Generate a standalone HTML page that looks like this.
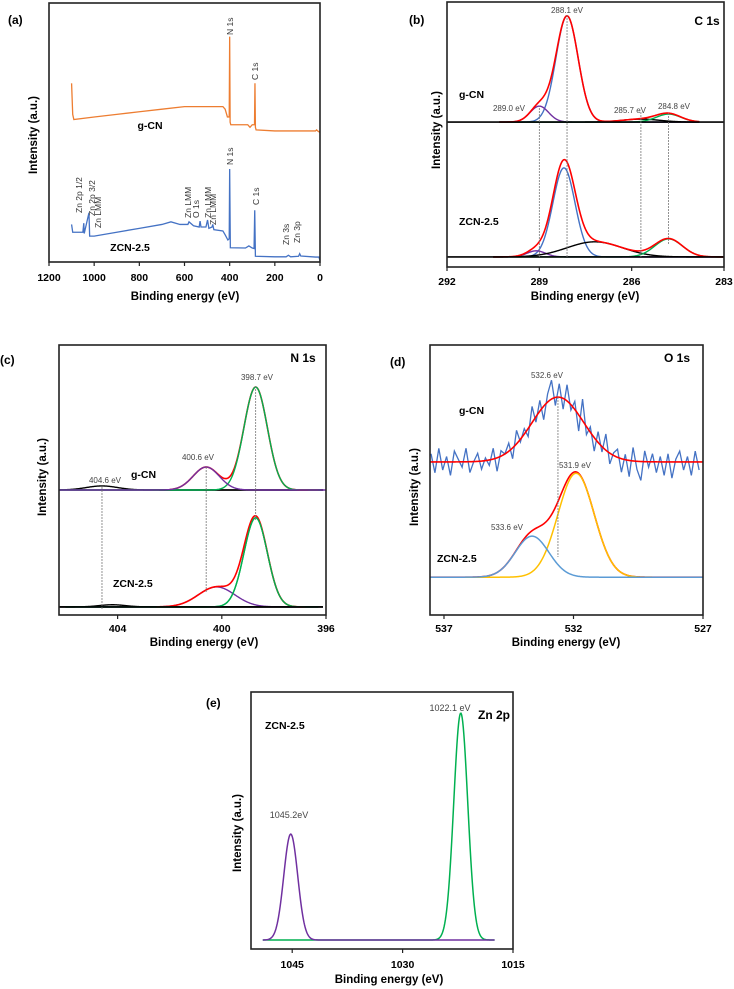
<!DOCTYPE html>
<html><head><meta charset="utf-8"><style>
html,body{margin:0;padding:0;background:#fff;}
svg{display:block;font-family:"Liberation Sans","DejaVu Sans",sans-serif;}
.lab{font-size:12px;font-weight:bold;}
.tick{font-size:10.5px;font-weight:bold;}
.ttl{font-size:11.5px;font-weight:bold;}
.ann{font-size:8px;fill:#444;}
.sm{font-size:8.5px;fill:#333;}
.bl{font-size:10.5px;font-weight:bold;}
</style></head><body>
<svg id="fig" width="734" height="989" viewBox="0 0 734 989" xmlns="http://www.w3.org/2000/svg"></svg>
<script>
// ---------- DATA ----------
// (a) survey
const surveyGcnE=[1100,1095,1090,1000,900,800,700,600,430,420,410,402,400,398,395,320,310,300,290,288,286,283,200,20,15,10,0];
const surveyGcnI=[69,57,55,56,57,58,59,60,60,59,56,56,87,54,53,53,52,53,53,69,52,51,50.6,50.6,51,50.6,50];
const surveyZcnE=[1100,1095,1080,1050,1046,1044,1023,1020,1010,1000,900,800,700,660,620,585,580,560,535,531,527,505,498,492,478,475,470,430,420,408,402,400,397,330,315,300,292,289,286,200,150,140,130,95,90,85,20,5,0];
const surveyZcnI=[14.5,11.5,11.5,11.5,15,11,19,10,10,10,11.5,13,14.5,15.5,14.5,14.5,15.5,14,13.5,15.8,13.5,13.5,16.2,13,13.5,14.5,12.5,12,10.5,8.5,9,35.9,5.5,5.4,6.2,5.4,5.2,20,2.2,2,2,2.6,2,2.2,3.2,2.3,1.9,1.9,0.6];
const surveyTicks=[1200,1000,800,600,400,200,0];
// (b) C 1s
const c1sCenters=[288.1,289.0,285.7,284.8];
const c1sGcnHeights=[40,6,1.1,3];
const c1sWidths=[0.36,0.3,0.6,0.4];
const c1sZcnCenters=[288.2,289.1,287.2,284.8];
const c1sZcnHeights=[33.6,2.3,5.7,6.8];
const c1sZcnWidths=[0.36,0.3,0.9,0.45];
const c1sTicks=[292,289,286,283];
// (c) N 1s
const n1sCenters=[398.7,400.6,404.6];
const n1sGcnHeights=[38.1,8.5,1.5];
const n1sGcnWidths=[0.45,0.5,0.6];
const n1sZcnCenters=[398.7,400.2,404.2];
const n1sZcnHeights=[33,7.4,0.8];
const n1sZcnWidths=[0.45,0.7,0.5];
const n1sTicks=[404,400,396];
// (d) O 1s
const o1sGcnCenter=532.6, o1sGcnHeight=24, o1sGcnWidth=1.0;
const o1sNoise=[3,-4,5,-3,2,-5,4,1,-2,5,-4,0,3,-3,1,-2,4,-5,2,0,3,-4,5,-1,2,-3,6,-2,4,-5,3,7,-3,5,-4,6,-2,3,-6,8,-3,2,-5,4,-2,6,-4,1,3,-5,2,-6,5,-3,-7,4,-2,3,-4,2,-5,3,-6,1,4,-3,2,-5,4,-3];
const o1sZcnCenters=[531.9,533.6];
const o1sZcnHeights=[38.5,15.2];
const o1sZcnWidths=[0.7,0.65];
const o1sTicks=[537,532,527];
// (e) Zn 2p
const zn2pCenters=[1022.1,1045.2];
const zn2pHeights=[88.3,41.2];
const zn2pWidths=[0.95,0.95];
const zn2pTicks=[1045,1030,1015];

// ---------- helpers ----------
const svg=document.getElementById('fig');
const NS='http://www.w3.org/2000/svg';
function mk(tag,attrs,parent){const e=document.createElementNS(NS,tag);for(const k in attrs)e.setAttribute(k,attrs[k]);(parent||svg).appendChild(e);return e;}
function txt(s,x,y,cls,anchor,rot){const t=mk('text',{x:x,y:y,class:cls,'text-anchor':anchor||'middle'});if(rot)t.setAttribute('transform','rotate(-90 '+x+' '+y+')');t.textContent=s;return t;}
function gauss(x,c,h,s){return h*Math.exp(-(x-c)*(x-c)/(2*s*s));}
function panel(b){
  b.X=e=>b.x0+(b.emin-e)/(b.emin-b.emax)*(b.x1-b.x0);
  b.Y=v=>b.y1-v/100*(b.y1-b.y0);
  return b;}
function frame(b,name){const r=mk('rect',{x:b.x0,y:b.y0,width:b.x1-b.x0,height:b.y1-b.y0,fill:'none',stroke:'#222','stroke-width':1.6});}
function ticks(b,arr,ty,name){arr.forEach(v=>{const x=b.X(v);mk('line',{x1:x,x2:x,y1:b.y1,y2:b.y1+4,stroke:'#222','stroke-width':1.2});const t=txt(String(v),x,ty,'tick');});}
function curveFn(b,e0,e1,f,color,w,name){let d='';const n=400;for(let i=0;i<=n;i++){const e=e0+(e1-e0)*i/n;d+=(i?'L':'M')+b.X(e).toFixed(2)+' '+b.Y(f(e)).toFixed(2);}const p=mk('path',{d:d,fill:'none',stroke:color,'stroke-width':w||1.5});return p;}
function poly(b,E,I,color,name){let d='';E.forEach((e,i)=>{d+=(i?'L':'M')+b.X(e).toFixed(2)+' '+b.Y(I[i]).toFixed(2);});const p=mk('path',{d:d,fill:'none',stroke:color,'stroke-width':1.3});}
function vdash(b,e,ya,yb,name){const x=b.X(e);const l=mk('line',{x1:x,x2:x,y1:ya,y2:yb,stroke:'#777','stroke-width':0.8,'stroke-dasharray':'2,1'});}
function hline(x1,x2,y,color,name){const l=mk('line',{x1:x1,x2:x2,y1:y,y2:y,stroke:color,'stroke-width':1.6});}
function label(s,x,y,cls,name,anchor,rot){const t=txt(s,x,y,cls,anchor,rot);return t;}

// ---------- (a) ----------
const A=panel({x0:49,x1:320,y0:3,y1:262,emin:1200,emax:0});
poly(A,surveyGcnE,surveyGcnI,'#ed7d31','gcn-survey-line');
poly(A,surveyZcnE,surveyZcnI,'#4472c4','zcn-survey-line');
frame(A,'panel-a');
ticks(A,surveyTicks,281,'panel-a');
label('Binding energy (eV)',185,300,'ttl','panel-a-x-axis-title');
label('Intensity (a.u.)',37,135,'ttl','panel-a-y-axis-title','middle',true);
label('(a)',8,24,'lab','panel-a-label','start');
label('g-CN',150,129,'bl','gcn-survey-label');
label('ZCN-2.5',130,251,'bl','zcn-survey-label');
[['N 1s',233,35],['C 1s',258,80],['Zn 2p 1/2',82,213],['Zn 2p 3/2',95,216],['Zn LMM',101,228],['Zn LMM',191,218],['O 1s',199,218],['Zn LMM',211,218],['Zn LMM',216,225],['N 1s',233,165],['C 1s',259,205],['Zn 3s',289,245],['Zn 3p',300,243]].forEach(a=>{label(a[0],a[1],a[2],'sm','survey-peak-label','start',true);});

// ---------- (b) ----------
const B=panel({x0:447,x1:724,y0:2,y1:267,emin:292,emax:283});
const bG=54.7,bZ=3.8;
const bCols=['#4472c4','#7030a0','#000','#00b050'];
c1sCenters.forEach((c,i)=>curveFn(B,290.3,283.8,e=>bG+gauss(e,c,c1sGcnHeights[i],c1sWidths[i]),bCols[i],1.4,'c1s-gcn-component'));
curveFn(B,290.3,283.8,e=>bG+c1sCenters.reduce((s,c,i)=>s+gauss(e,c,c1sGcnHeights[i],c1sWidths[i]),0),'#ff0000',1.6,'c1s-gcn-envelope');
c1sZcnCenters.forEach((c,i)=>curveFn(B,290.5,283,e=>bZ+gauss(e,c,c1sZcnHeights[i],c1sZcnWidths[i]),bCols[i],1.4,'c1s-zcn-component'));
curveFn(B,290.5,283,e=>bZ+c1sZcnCenters.reduce((s,c,i)=>s+gauss(e,c,c1sZcnHeights[i],c1sZcnWidths[i]),0),'#ff0000',1.6,'c1s-zcn-envelope');
hline(447,724,B.Y(bG),'#000','c1s-gcn-baseline');
hline(447,724,B.Y(bZ),'#000','c1s-zcn-baseline');
vdash(B,289.0,108,257,'c1s-guide');vdash(B,288.1,15,257,'c1s-guide');vdash(B,285.7,112,257,'c1s-guide');vdash(B,284.8,113,245,'c1s-guide');
frame(B,'panel-b');
ticks(B,c1sTicks,285,'panel-b');
label('Binding energy (eV)',585,300,'ttl','panel-b-x-axis-title');
label('Intensity (a.u.)',440,130,'ttl','panel-b-y-axis-title','middle',true);
label('(b)',409,24,'lab','panel-b-label','start');
label('C 1s',707,25,'lab','panel-b-title');
label('288.1 eV',567,13,'ann','c1s-annot');label('289.0 eV',509,111,'ann','c1s-annot');label('285.7 eV',630,113,'ann','c1s-annot');label('284.8 eV',674,109,'ann','c1s-annot');
label('g-CN',459,98,'bl','c1s-gcn-label','start');label('ZCN-2.5',459,225,'bl','c1s-zcn-label','start');

// ---------- (c) ----------
const C=panel({x0:59,x1:326,y0:345,y1:615,emin:406.25,emax:396});
const cG=46.3,cZ=3;
const cCols=['#00b050','#7030a0','#000'];
hline(59,323,C.Y(cG),'#000','n1s-gcn-baseline');
hline(59,323,C.Y(cZ),'#000','n1s-zcn-baseline');
curveFn(C,406.25,396.1,e=>cG+gauss(e,n1sCenters[2],n1sGcnHeights[2],n1sGcnWidths[2]),cCols[2],1.4,'n1s-gcn-component');
curveFn(C,402,396.3,e=>cG+n1sCenters.reduce((s,c,i)=>s+gauss(e,c,n1sGcnHeights[i],n1sGcnWidths[i]),0),'#ff0000',1.6,'n1s-gcn-envelope');
curveFn(C,406.25,396.2,e=>cG+gauss(e,n1sCenters[0],n1sGcnHeights[0],n1sGcnWidths[0]),cCols[0],1.4,'n1s-gcn-main-component');
curveFn(C,406.25,396,e=>cG+gauss(e,n1sCenters[1],n1sGcnHeights[1],n1sGcnWidths[1]),cCols[1],1.4,'n1s-gcn-component');
n1sZcnCenters.forEach((c,i)=>curveFn(C,406,396.3,e=>cZ+gauss(e,c,n1sZcnHeights[i],n1sZcnWidths[i]),cCols[i],1.4,'n1s-zcn-component'));
curveFn(C,402.5,396.8,e=>cZ+n1sZcnCenters.reduce((s,c,i)=>s+gauss(e,c,n1sZcnHeights[i],n1sZcnWidths[i]),0),'#ff0000',1.6,'n1s-zcn-envelope');
curveFn(C,406,396.3,e=>cZ+gauss(e,n1sZcnCenters[0],n1sZcnHeights[0],n1sZcnWidths[0]),cCols[0],1.4,'n1s-zcn-main-component');
hline(59,323,C.Y(cZ),'#000','n1s-zcn-baseline-top');
vdash(C,404.6,487,610,'n1s-guide');vdash(C,400.6,467,592,'n1s-guide');vdash(C,398.7,386,520,'n1s-guide');
frame(C,'panel-c');
ticks(C,n1sTicks,632,'panel-c');
label('Binding energy (eV)',204,646,'ttl','panel-c-x-axis-title');
label('Intensity (a.u.)',46,477,'ttl','panel-c-y-axis-title','middle',true);
label('(c)',0,364,'lab','panel-c-label','start');
label('N 1s',303,362,'lab','panel-c-title');
label('398.7 eV',257,380,'ann','n1s-annot');label('400.6 eV',198,460,'ann','n1s-annot');label('404.6 eV',105,483,'ann','n1s-annot');
label('g-CN',131,478,'bl','n1s-gcn-label','start');label('ZCN-2.5',113,587,'bl','n1s-zcn-label','start');

// ---------- (d) ----------
const D=panel({x0:430,x1:703,y0:345,y1:615,emin:537.54,emax:527});
const dG=56.7,dZ=14;
let nd='';o1sNoise.forEach((n,i)=>{const e=537.5-i*0.15;const v=dG+gauss(e,o1sGcnCenter,o1sGcnHeight,o1sGcnWidth)+n;nd+=(i?'L':'M')+D.X(e).toFixed(2)+' '+D.Y(v).toFixed(2);});
const np=mk('path',{d:nd,fill:'none',stroke:'#4472c4','stroke-width':1.3});


curveFn(D,537.54,527,e=>dG+gauss(e,o1sGcnCenter,o1sGcnHeight,o1sGcnWidth),'#ff0000',1.6,'o1s-gcn-fit');
curveFn(D,537.54,527,e=>dZ+o1sZcnCenters.reduce((s,c,i)=>s+gauss(e,c,o1sZcnHeights[i],o1sZcnWidths[i]),0),'#ff0000',1.6,'o1s-zcn-envelope');
curveFn(D,537.54,527,e=>dZ+gauss(e,o1sZcnCenters[0],o1sZcnHeights[0],o1sZcnWidths[0]),'#ffc000',1.5,'o1s-zcn-component');
curveFn(D,537.54,527,e=>dZ+gauss(e,o1sZcnCenters[1],o1sZcnHeights[1],o1sZcnWidths[1]),'#5b9bd5',1.5,'o1s-zcn-component');
vdash(D,532.6,397,557,'o1s-guide');
frame(D,'panel-d');
ticks(D,o1sTicks,632,'panel-d');
label('Binding energy (eV)',566,646,'ttl','panel-d-x-axis-title');
label('Intensity (a.u.)',418,487,'ttl','panel-d-y-axis-title','middle',true);
label('(d)',390,366,'lab','panel-d-label','start');
label('O 1s',677,362,'lab','panel-d-title');
label('532.6 eV',547,378,'ann','o1s-annot');label('531.9 eV',575,468,'ann','o1s-annot');label('533.6 eV',507,530,'ann','o1s-annot');
label('g-CN',459,414,'bl','o1s-gcn-label','start');label('ZCN-2.5',437,562,'bl','o1s-zcn-label','start');

// ---------- (e) ----------
const E=panel({x0:251,x1:513,y0:692,y1:949,emin:1050.6,emax:1015});
const eB=3.5;
curveFn(E,1049,1017.5,e=>eB+gauss(e,zn2pCenters[0],zn2pHeights[0],zn2pWidths[0]),'#00b050',1.5,'zn2p3-peak');
curveFn(E,1049,1017.5,e=>eB+gauss(e,zn2pCenters[1],zn2pHeights[1],zn2pWidths[1]),'#7030a0',1.5,'zn2p1-peak');
frame(E,'panel-e');
ticks(E,zn2pTicks,968,'panel-e');
label('Binding energy (eV)',389,983,'ttl','panel-e-x-axis-title');
label('Intensity (a.u.)',241,833,'ttl','panel-e-y-axis-title','middle',true);
label('(e)',206,707,'lab','panel-e-label','start');
label('Zn 2p',478,719,'lab','panel-e-title','start');
label('ZCN-2.5',265,729,'bl','zn2p-sample-label','start');
label('1022.1  eV',450,711,'ann','zn2p-annot').setAttribute('style','font-size:9px');
label('1045.2eV',289,818,'ann','zn2p-annot').setAttribute('style','font-size:9px');
</script>
</body></html>
